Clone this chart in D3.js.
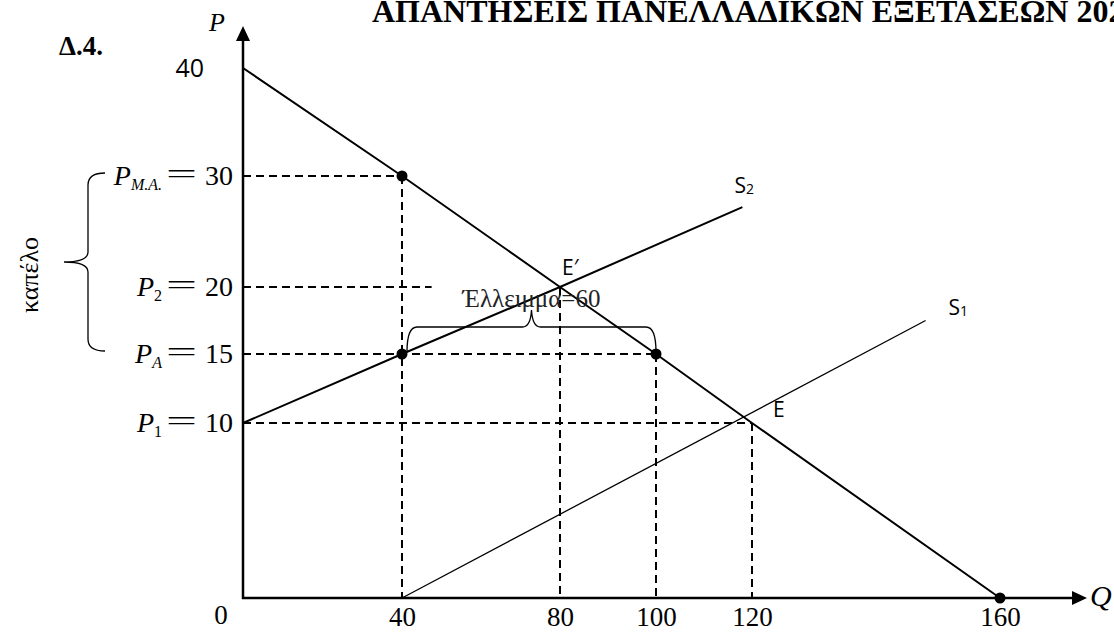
<!DOCTYPE html>
<html><head><meta charset="utf-8">
<script src="https://cdn.jsdelivr.net/npm/d3@7"></script>
<style>body{margin:0;background:#fff}svg{display:block}</style>
</head><body>
<script>
// ---- data ----
const qTicks = [0, 40, 80, 100, 120, 160];
const pTicks = [0, 10, 15, 20, 30, 40];
const demandQ = [0, 40, 80, 100, 120, 160];
const demandP = [40, 30, 20, 15, 10, 0];
const s1Q = [40, 148];
const s1P = [0, 17.5];
const s2Q = [0, 40, 80, 118];
const s2P = [10, 15, 20, 27.2];
const dotQ = [40, 40, 100, 160];
const dotP = [30, 15, 15, 0];
const priceSubs = ["M.A.", "2", "A", "1"];
const priceVals = [30, 20, 15, 10];
const hGuideP = [30, 20, 15, 10];
const hGuideQ = [40, 47.5, 100, 120];
const vGuideQ = [40, 80, 100, 120];
const vGuideP = [30, 20, 15, 10];
const shortageQ = [40, 100];
const shortageP = 15;
const shortageLabel = "Έλλειμμα=60";
const ceilingRange = [15, 30];
const ceilingLabel = "καπέλο";
const titleText = "ΑΠΑΝΤΗΣΕΙΣ ΠΑΝΕΛΛΑΔΙΚΩΝ ΕΞΕΤΑΣΕΩΝ 2020";
const sectionText = "Δ.4.";

// ---- drawing ----
const W = 1114, H = 633;
const serif = "'Liberation Serif','Times New Roman',serif";
const sans = "'Open Sans','Liberation Sans',sans-serif";
const svg = d3.select("body").append("svg").attr("width", W).attr("height", H);

const x = d3.scaleLinear().domain(qTicks).range([243, 402, 560, 656, 752, 1000]);
const y = d3.scaleLinear().domain(pTicks).range([598, 423, 354, 287, 176, 68]);

// header
svg.append("text").attr("x", 372).attr("y", 22).attr("font-family", serif)
  .attr("font-weight", "bold").attr("font-size", 32).text(titleText);
svg.append("text").attr("x", 59).attr("y", 55).attr("font-family", serif)
  .attr("font-weight", "bold").attr("font-size", 27).text(sectionText);

// dashed guides
const dash = svg.append("g").attr("stroke", "#000").attr("stroke-width", 2).attr("stroke-dasharray", "8,5");
hGuideP.forEach((p, i) => {
  dash.append("line").attr("x1", x(0)).attr("x2", x(hGuideQ[i])).attr("y1", y(p)).attr("y2", y(p));
});
vGuideQ.forEach((q, i) => {
  dash.append("line").attr("x1", x(q)).attr("x2", x(q)).attr("y1", y(vGuideP[i])).attr("y2", y(0));
});

// curves
const line = d3.line().x(d => x(d[0])).y(d => y(d[1]));
svg.append("path").attr("d", line(d3.zip(demandQ, demandP))).attr("fill", "none").attr("stroke", "#000").attr("stroke-width", 2);
svg.append("path").attr("d", line(d3.zip(s2Q, s2P))).attr("fill", "none").attr("stroke", "#000").attr("stroke-width", 2);
svg.append("path").attr("d", line(d3.zip(s1Q, s1P))).attr("fill", "none").attr("stroke", "#000").attr("stroke-width", 1.3);

// axes lines + arrows
const x0 = x(0), y0 = y(0);
svg.append("line").attr("x1", x0).attr("x2", x0).attr("y1", y0 + 1).attr("y2", 40).attr("stroke", "#000").attr("stroke-width", 2.5);
svg.append("path").attr("d", `M${x0},26 L${x0 - 7},41 L${x0 + 7},41 Z`).attr("fill", "#000");
svg.append("line").attr("x1", x0 - 1).attr("x2", 1073).attr("y1", y0).attr("y2", y0).attr("stroke", "#000").attr("stroke-width", 2.5);
svg.append("path").attr("d", `M1087,${y0} L1072,${y0 - 7} L1072,${y0 + 7} Z`).attr("fill", "#000");

// x tick labels via axis
const xa = svg.append("g").attr("transform", `translate(0,${y0})`)
  .call(d3.axisBottom(x).tickValues(qTicks.slice(1)).tickSize(0).tickFormat(d3.format("d")));
xa.select(".domain").remove();
xa.selectAll("text").attr("y", 28).attr("dy", 0).attr("font-family", serif).attr("font-size", 27).attr("fill", "#000");
svg.append("text").attr("x", 221).attr("y", 624).attr("text-anchor", "middle").attr("font-family", serif).attr("font-size", 27).text("0");

// axis names
svg.append("text").attr("x", 209).attr("y", 31).attr("font-family", serif).attr("font-style", "italic").attr("font-size", 26).text("P");
svg.append("text").attr("x", 1090).attr("y", 606).attr("font-family", serif).attr("font-style", "italic").attr("font-size", 30).text("Q");

// y top label 40
svg.append("text").attr("x", 204).attr("y", y(40) + 9).attr("text-anchor", "end").attr("font-family", sans).attr("font-size", 25).text("40");

// price labels
priceVals.forEach((v, i) => {
  const yy = y(v);
  svg.append("text").attr("x", 233).attr("y", yy + 9).attr("text-anchor", "end")
    .attr("font-family", serif).attr("font-size", 28).text(v);
  svg.append("text").attr("x", 166).attr("y", yy + 7).attr("font-family", serif).attr("font-size", 28)
    .attr("textLength", 31).attr("lengthAdjust", "spacingAndGlyphs").text("=");
  const t = svg.append("text").attr("x", 162).attr("y", yy + 9).attr("text-anchor", "end")
    .attr("font-family", serif).attr("font-size", 28);
  t.append("tspan").attr("font-style", "italic").text("P");
  t.append("tspan").attr("font-size", 16).attr("dy", 5)
    .attr("font-style", /\d/.test(priceSubs[i]) ? "normal" : "italic").text(priceSubs[i]);
});

// dots
svg.append("g").selectAll("circle").data(d3.zip(dotQ, dotP)).join("circle")
  .attr("cx", d => x(d[0])).attr("cy", d => y(d[1])).attr("r", 5.5).attr("fill", "#000");

// curve labels
const s2e = [x(s2Q[s2Q.length - 1]), y(s2P[s2P.length - 1])];
const st2 = svg.append("text").attr("x", s2e[0] - 8).attr("y", s2e[1] - 14).attr("font-family", sans).attr("font-size", 21);
st2.append("tspan").text("S"); st2.append("tspan").attr("font-size", 14).attr("dy", 1).text("2");
const s1e = [x(s1Q[1]), y(s1P[1])];
const st1 = svg.append("text").attr("x", s1e[0] + 23).attr("y", s1e[1] - 6).attr("font-family", sans).attr("font-size", 21);
st1.append("tspan").text("S"); st1.append("tspan").attr("font-size", 14).attr("dy", 1).text("1");
svg.append("text").attr("x", x(80) + 2).attr("y", y(20) - 12).attr("font-family", sans).attr("font-size", 21).text("E′");
svg.append("text").attr("x", x(120) + 21).attr("y", y(10) - 6).attr("font-family", sans).attr("font-size", 21).text("E");

// shortage brace
const bl = x(shortageQ[0]) + 5, br = x(shortageQ[1]), by = y(shortageP), bm = (bl + br) / 2;
const bt = by - 27;
svg.append("path").attr("fill", "none").attr("stroke", "#000").attr("stroke-width", 1.3)
  .attr("d", `M${bl},${by - 2} Q${bl},${bt} ${bl + 10},${bt} L${bm - 9},${bt} Q${bm - 1},${bt} ${bm},${bt - 17} Q${bm + 1},${bt} ${bm + 9},${bt} L${br - 10},${bt} Q${br},${bt} ${br},${by - 2}`);
svg.append("text").attr("x", bm).attr("y", by - 47).attr("text-anchor", "middle")
  .attr("font-family", serif).attr("font-size", 25).attr("fill", "#222").text(shortageLabel);

// ceiling brace
const ct = y(ceilingRange[1]) - 3, cb = y(ceilingRange[0]) - 3, cm = (ct + cb) / 2, cx = 88;
svg.append("path").attr("fill", "none").attr("stroke", "#000").attr("stroke-width", 1.3)
  .attr("d", `M105,${ct} Q${cx},${ct} ${cx},${ct + 12} L${cx},${cm - 10} Q${cx},${cm} 64,${cm} M64,${cm} Q${cx},${cm} ${cx},${cm + 10} L${cx},${cb - 12} Q${cx},${cb} 105,${cb}`);
svg.append("text").attr("transform", `translate(38,${cm + 13}) rotate(-90)`).attr("text-anchor", "middle")
  .attr("font-family", serif).attr("font-size", 26).text(ceilingLabel);
</script>
</body></html>
